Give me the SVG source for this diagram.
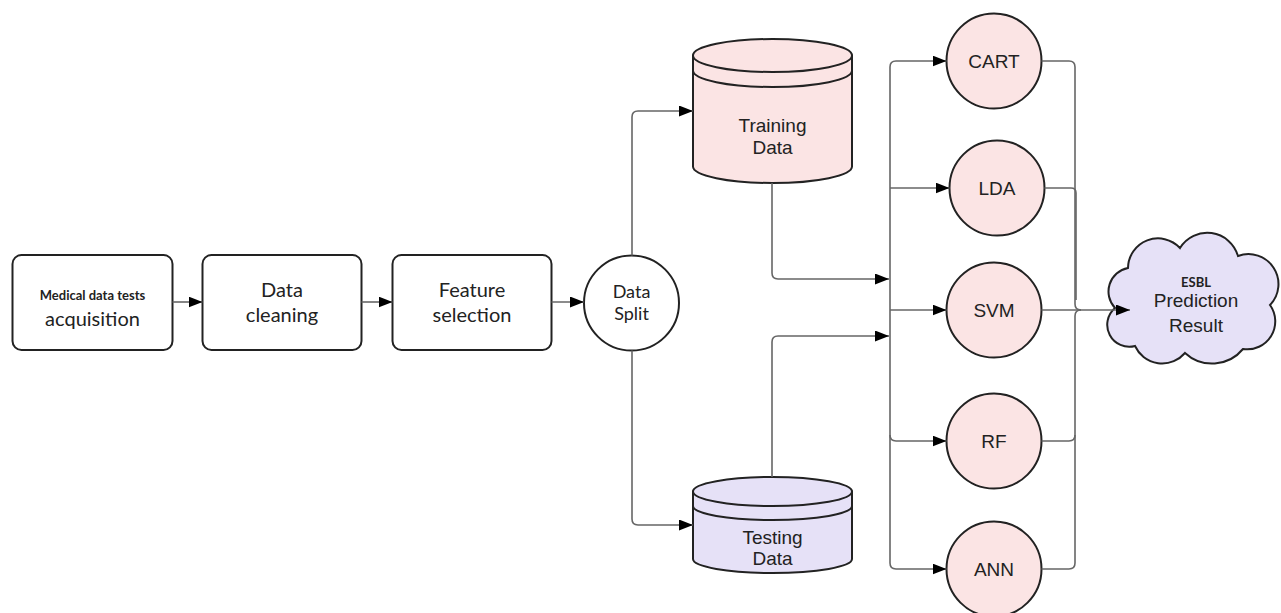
<svg xmlns="http://www.w3.org/2000/svg" width="1281" height="613" viewBox="0 0 1281 613">
  <style>
    .box { fill: #ffffff; stroke: #222222; stroke-width: 2; }
    .pink { fill: #fbe4e4; stroke: #222222; stroke-width: 2; }
    .lav { fill: #e6e1f7; stroke: #222222; stroke-width: 2; }
    .edge { fill: none; stroke: #222222; stroke-width: 2; }
    .conn { fill: none; stroke: #666666; stroke-width: 1.6; }
    .cal { font-family: Lato, "Open Sans", sans-serif; fill: #222222; text-anchor: middle; }
    .ari { font-family: "Liberation Sans", Arial, sans-serif; fill: #222222; text-anchor: middle; font-size: 19px; }
  </style>
  <defs>
    <marker id="arrow" markerUnits="userSpaceOnUse" markerWidth="14" markerHeight="11" refX="14" refY="5.5" orient="auto">
      <path d="M0,0 L14,5.5 L0,11 z" fill="#000000"/>
    </marker>
  </defs>

  <rect width="1281" height="613" fill="#ffffff"/>

  <!-- pipeline boxes -->
  <g id="acquisition">
    <rect class="box" x="12.5" y="255" width="160" height="95" rx="9"/>
    <text class="cal" x="92.5" y="300" font-size="13" font-weight="bold">Medical data tests</text>
    <text class="cal" x="92.5" y="326" font-size="20">acquisition</text>
  </g>
  <g id="cleaning">
    <rect class="box" x="202.5" y="255" width="159" height="95" rx="9"/>
    <text class="cal" x="282" y="297" font-size="20">Data</text>
    <text class="cal" x="282" y="322" font-size="20">cleaning</text>
  </g>
  <g id="feature">
    <rect class="box" x="392.5" y="255" width="159" height="95" rx="9"/>
    <text class="cal" x="472" y="297" font-size="20">Feature</text>
    <text class="cal" x="472" y="322" font-size="20">selection</text>
  </g>
  <g id="split">
    <circle class="box" cx="631.5" cy="303" r="47.5"/>
    <text class="cal" x="631.5" y="298" font-size="18">Data</text>
    <text class="cal" x="631.5" y="320" font-size="18">Split</text>
  </g>

  <!-- data stores -->
  <g id="training">
    <path class="pink" d="M693,55.5 V166.5 A79.5,16.5 0 0 0 852,166.5 V55.5 Z"/>
    <ellipse class="pink" cx="772.5" cy="55.5" rx="79.5" ry="16.5"/>
    <path class="edge" d="M693,70.5 A79.5,16.5 0 0 0 852,70.5"/>
    <text class="ari" x="772.5" y="132">Training</text>
    <text class="ari" x="772.5" y="154">Data</text>
  </g>
  <g id="testing">
    <path class="lav" d="M693,491.5 V559 A79.5,14 0 0 0 852,559 V491.5 Z"/>
    <ellipse class="lav" cx="772.5" cy="491.5" rx="79.5" ry="14.5"/>
    <path class="edge" d="M693,506 A79.5,14 0 0 0 852,506"/>
    <text class="ari" x="772.5" y="544">Testing</text>
    <text class="ari" x="772.5" y="565">Data</text>
  </g>

  <!-- classifiers -->
  <g id="cart">
    <circle class="pink" cx="994" cy="61" r="47.5"/>
    <text class="ari" x="994" y="68">CART</text>
  </g>
  <g id="lda">
    <circle class="pink" cx="997" cy="188" r="47.5"/>
    <text class="ari" x="997" y="195">LDA</text>
  </g>
  <g id="svm">
    <circle class="pink" cx="994" cy="310" r="47.5"/>
    <text class="ari" x="994" y="317">SVM</text>
  </g>
  <g id="rf">
    <circle class="pink" cx="994" cy="441" r="47.5"/>
    <text class="ari" x="994" y="448">RF</text>
  </g>
  <g id="ann">
    <circle class="pink" cx="994" cy="569" r="47.5"/>
    <text class="ari" x="994" y="576">ANN</text>
  </g>

  <!-- result cloud -->
  <g id="result">
    <path class="lav" d="M1115,308 A24,24 0 0 1 1128,268 A30,30 0 0 1 1180,248 A32,32 0 0 1 1238,256 A30,30 0 0 1 1270,305 A28,28 0 0 1 1243,349 A40,40 0 0 1 1185,353 A30,30 0 0 1 1135,346 A22,22 0 0 1 1115,308 Z"/>
    <text class="cal" x="1196" y="287" font-size="13" font-weight="bold">ESBL</text>
    <text class="ari" x="1196" y="307" font-size="20">Prediction</text>
    <text class="ari" x="1196" y="332" font-size="20">Result</text>
  </g>

  <!-- connectors -->
  <g id="connectors">
    <path class="conn" d="M172.5,302 H202.5" marker-end="url(#arrow)"/>
    <path class="conn" d="M361.5,302 H392.5" marker-end="url(#arrow)"/>
    <path class="conn" d="M551.5,302 H584" marker-end="url(#arrow)"/>

    <path class="conn" d="M632,255.5 V117 Q632,111 638,111 H693" marker-end="url(#arrow)"/>
    <path class="conn" d="M632,350.5 V519 Q632,525 638,525 H693" marker-end="url(#arrow)"/>

    <path class="conn" d="M772,183 V273 Q772,279 778,279 H889" marker-end="url(#arrow)"/>
    <path class="conn" d="M772,477 V342 Q772,336 778,336 H889" marker-end="url(#arrow)"/>

    <path class="conn" d="M890,300 V67 Q890,61 896,61 H946.5" marker-end="url(#arrow)"/>
    <path class="conn" d="M890,300 V563 Q890,569 896,569 H946.5" marker-end="url(#arrow)"/>
    <path class="conn" d="M890,188 H949.5" marker-end="url(#arrow)"/>
    <path class="conn" d="M890,310 H946.5" marker-end="url(#arrow)"/>
    <path class="conn" d="M890,435 Q890,441 896,441 H946.5" marker-end="url(#arrow)"/>

    <path class="conn" d="M1041.5,61 H1069 Q1075,61 1075,67 V304 Q1075,310 1081,310"/>
    <path class="conn" d="M1041.5,569 H1069 Q1075,569 1075,563 V316 Q1075,310 1081,310"/>
    <path class="conn" d="M1044.5,188 H1071 Q1076,188 1076,193 V300"/>
    <path class="conn" d="M1041.5,441 H1069 Q1075,441 1075,435"/>
    <path class="conn" d="M1041.5,310 H1130" marker-end="url(#arrow)"/>
  </g>
</svg>
